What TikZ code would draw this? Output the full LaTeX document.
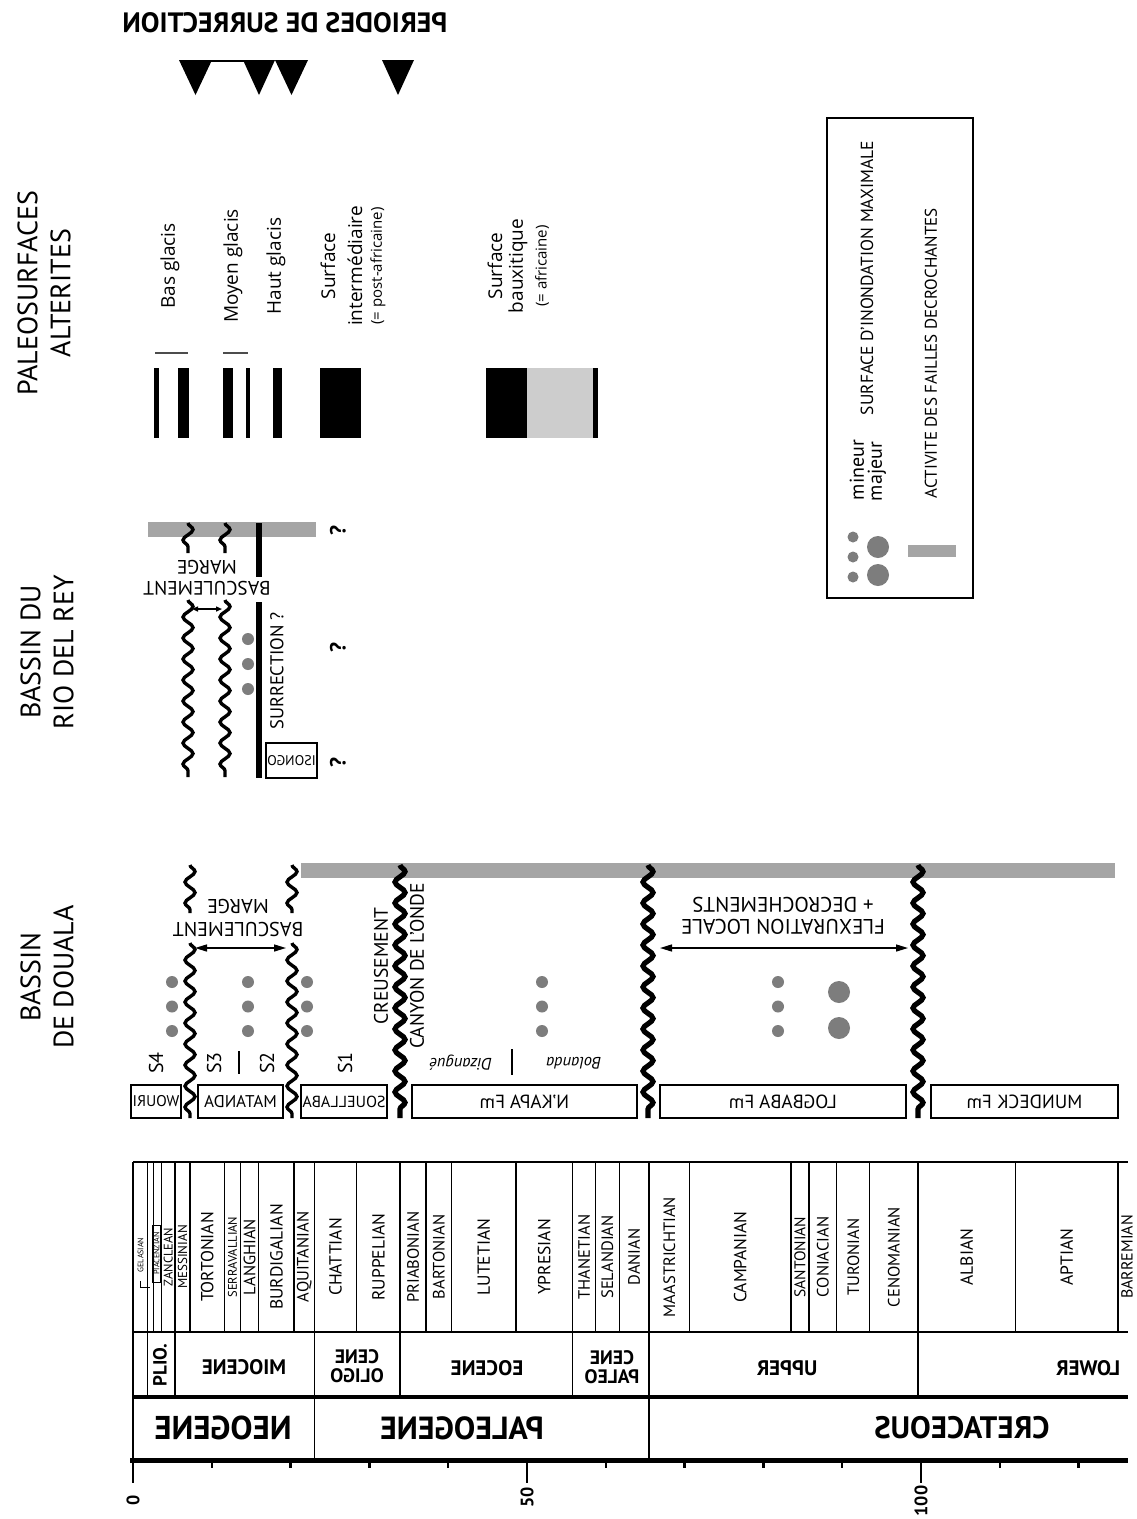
\documentclass[tikz,border=0pt]{standalone}
\usepackage{fontspec}
\setmainfont{PT Sans}
\newfontfamily\surff{Open Sans}
\usetikzlibrary{decorations.pathmorphing,arrows.meta}
\newcommand{\ax}[1]{133+7.88*#1}
\definecolor{bargray}{RGB}{165,165,165}
\definecolor{dotgray}{RGB}{125,125,125}
\definecolor{palegray}{RGB}{205,205,205}
\begin{document}
\begin{tikzpicture}[x=1pt,y=-1pt,
  every node/.style={inner sep=0pt, outer sep=0pt},
  rt/.style={rotate=90},
  mir/.style={xscale=-1},
  ud/.style={rotate=180},
  f/.style={font=\fontsize{#1}{#1}\selectfont},
  fb/.style={font=\fontsize{#1}{#1}\selectfont\bfseries},
  fi/.style={font=\fontsize{#1}{#1}\selectfont\itshape},
  fs/.style={font=\fontsize{#1}{#1}\surff},
  wavy/.style={decorate, decoration={snake, segment length=21pt, amplitude=5pt}, line width=3.4pt},
  wavyT/.style={wavy, line width=5.2pt},
  dbl/.style={{Triangle[length=12pt,width=7pt]}-{Triangle[length=12pt,width=7pt]}, line width=1.4pt},
  dbls/.style={{Triangle[length=6pt,width=5pt]}-{Triangle[length=6pt,width=5pt]}, line width=1.4pt},
  tab/.style={line width=1.3pt},
  fmbox/.style={draw, mir, line width=1.4pt, minimum height=33pt},
  sim/.style={fill=dotgray},
]
\useasboundingbox (0,0) rectangle (1136,1519);
\fill[white] (0,0) rectangle (1136,1519);

% ---------- headers ----------
\node[rt, align=center, font=\fontsize{28}{33}\selectfont] (hdouala) at (47,977) {BASSIN\\DE DOUALA};
\node[rt, align=center, font=\fontsize{28}{33}\selectfont] (hrio) at (47,652) {BASSIN DU\\RIO DEL REY};
\node[rt, align=center, font=\fontsize{28}{33}\selectfont] (hpaleo) at (44,293) {PALEOSURFACES\\ALTERITES};
\node[mir, fb=28] (hsurr) at (285,23) {PERIODES DE SURRECTION};

% ---------- triangles (periodes de surrection) ----------
\draw[line width=2pt] (196,61) -- (258,61);
\fill (179,60) -- (212,60) -- (195.5,95) -- cycle;
\fill (243,60) -- (275,60) -- (259,95) -- cycle;
\fill (275,60) -- (308,60) -- (291.5,95) -- cycle;
\fill (382,60) -- (414,60) -- (398,95) -- cycle;

% ---------- chronostratigraphic table ----------
\draw[tab] (133,1162) -- (1128,1162);
\draw[tab] (133,1332) -- (1128,1332);
\draw[line width=4pt] (133,1397) -- (1128,1397);
\draw[line width=2.5pt] (133,1162) -- (133,1460);
\foreach \a in {1.806,2.588,3.6,5.332,7.246,11.608,13.65,15.97,20.43,23.03,28.4,33.9,37.2,40.4,48.6,55.8,58.7,61.7,65.5,70.6,83.5,85.8,89.3,93.5,99.6,112,125}
  \draw[tab] ({\ax{\a}},1162) -- ({\ax{\a}},1332);
\foreach \a in {1.806,5.332,23.03,33.9,55.8,65.5,99.6}
  \draw[tab] ({\ax{\a}},1332) -- ({\ax{\a}},1397);
\foreach \a in {23.03,65.5}
  \draw[tab] ({\ax{\a}},1397) -- ({\ax{\a}},1460);
% axis
\draw[line width=5pt] (130,1460) -- (1128,1460);
\foreach \a in {10,20,30,40,60,70,80,90,110,120}
  \draw[line width=2.5pt] ({\ax{\a}},1460) -- ({\ax{\a}},1468);
\foreach \a in {0,50,100}
  \draw[line width=2.5pt] ({\ax{\a}},1460) -- ({\ax{\a}},1483);
\node[rt, fb=18] (a0) at ({\ax{0}},1500) {0};
\node[rt, fb=18] (a50) at ({\ax{50}},1497) {50};
\node[rt, fb=18] (a100) at ({\ax{100}},1501) {100};

% stage labels
\foreach \n/\a/\s in {ZANCLEAN/4.47/12.5, MESSINIAN/6.29/13, TORTONIAN/9.43/17.5,
  SERRAVALLIAN/12.63/12.5, LANGHIAN/14.8/16.5, BURDIGALIAN/18.2/17.5, AQUITANIAN/21.73/16.5,
  CHATTIAN/25.7/17.5, RUPPELIAN/31.15/17.5, PRIABONIAN/35.55/16.5, BARTONIAN/38.8/16.5,
  LUTETIAN/44.5/17.5, YPRESIAN/52.2/17.5, THANETIAN/57.25/16.5, SELANDIAN/60.2/16.5,
  DANIAN/63.6/16.5, MAASTRICHTIAN/68.05/16.5, CAMPANIAN/77.05/17.5, SANTONIAN/84.65/15.5,
  CONIACIAN/87.55/16.5, TURONIAN/91.4/16.5, CENOMANIAN/96.55/16.5, ALBIAN/105.8/17.5,
  APTIAN/118.5/17.5}
  \node[rt, f=\s] (st\n) at ({\ax{\a}},1257) {\n};
\node[rt, f=16] (stBARREMIAN) at (1127,1257) {BARREMIAN};
% Gelasian and Piacenzian
\node[rt, f=8] (stGEL) at (140.5,1255) {GELASIAN};
\draw[line width=0.9pt] (140,1281) -- (140,1287) -- (150,1287);
\draw[line width=0.9pt] (152.4,1225) rectangle (160.7,1282);
\node[rt, f=8] (stPIA) at (156.5,1253.5) {PIACENZIAN};

% series labels
\node[rt, fb=19] (plio) at (160,1365) {PLIO.};
\node[mir, fb=21] (mio) at (244,1367) {MIOCENE};
\node[mir, align=center, font=\fontsize{19.5}{18.5}\bfseries] (oli) at (357,1366) {CENE\\OLIGO};
\node[mir, fb=21] (eoc) at (487,1368) {EOCENE};
\node[mir, align=center, font=\fontsize{19.5}{18.5}\bfseries] (pal) at (612,1367) {CENE\\PALEO};
\node[mir, fb=21] (upp) at (787,1368) {UPPER};
\node[mir, fb=21] (low) at (1088,1368) {LOWER};
% system labels
\node[mir, fb=33] (neo) at (223,1428) {NEOGENE};
\node[mir, fb=32] (paleog) at (462,1428) {PALEOGENE};
\node[mir, fb=31] (cret) at (962,1428) {CRETACEOUS};

% ---------- Bassin de Douala ----------
\fill[bargray] (301,863) rectangle (1115,878);
\draw[wavy] (190,865) -- (190,913);
\draw[wavy] (190,943) -- (190,1118);
\draw[wavy] (292,865) -- (292,913);
\draw[wavy] (292,943) -- (292,1118);
\draw[wavyT] (400,865) -- (400,1118);
\draw[wavyT] (648,865) -- (648,1118);
\draw[wavyT] (918,865) -- (918,1118);

\coordinate (dba) at (195,948);
\coordinate (dbb) at (286,948);
\draw[dbl] (dba) -- (dbb);
\node[ud, align=center, font=\fontsize{20}{23}\selectfont] (dbasc) at (238,918) {BASCULEMENT\\MARGE};

\coordinate (fla) at (660,948);
\coordinate (flb) at (908,948);
\draw[dbl] (fla) -- (flb);
\node[ud, align=center, font=\fontsize{21}{22}\selectfont] (flex) at (783,916) {FLEXURATION LOCALE\\+ DECROCHEMENTS};

\node[rt, f=19.5] (creus) at (381,966) {CREUSEMENT};
\node[rt, f=19.5] (canyon) at (417,966) {CANYON DE L’ONDE};

\foreach \x in {172,248,307,542,778}{
  \fill[sim] (\x,982) circle[radius=6pt];
  \fill[sim] (\x,1006.5) circle[radius=6pt];
  \fill[sim] (\x,1031) circle[radius=6pt];
}
\fill[sim] (839,992) circle[radius=11pt];
\fill[sim] (839,1028) circle[radius=11pt];

\node[rt, f=20] (s4) at (156,1063) {S4};
\node[rt, f=20] (s3) at (214,1063) {S3};
\draw[line width=1.6pt] (239,1051) -- (239,1074);
\node[rt, f=20] (s2) at (267,1063) {S2};
\node[rt, f=20] (s1) at (345,1063) {S1};

\node[ud, fi=16.5] (diz) at (461,1063) {Dizangué};
\draw[line width=1.6pt] (512,1049) -- (512,1075);
\node[ud, fi=16.5] (bol) at (574,1063) {Bolanda};

\node[fmbox, minimum width=50pt, f=15.5] (wouri) at (156,1101.5) {WOURI};
\node[fmbox, minimum width=85pt, f=17] (matanda) at (240.5,1101.5) {MATANDA};
\node[fmbox, minimum width=86pt, f=16] (souel) at (344,1101.5) {SOUELLABA};
\node[fmbox, minimum width=225pt, f=19] (nkapa) at (524.5,1101.5) {N’KAPA Fm};
\node[fmbox, minimum width=246pt, f=19] (logb) at (783,1101.5) {LOGBABA Fm};
\node[fmbox, minimum width=187pt, f=19] (mund) at (1024.5,1101.5) {MUNDECK Fm};

% ---------- Bassin du Rio del Rey ----------
\fill[bargray] (148,522) rectangle (316,537);
\draw[wavy] (188,523) -- (188,553);
\draw[wavy] (188,600) -- (188,777);
\draw[wavy] (225,523) -- (225,553);
\draw[wavy] (225,600) -- (225,777);
\draw[line width=6pt] (259,523) -- (259,577);
\draw[line width=6pt] (259,602) -- (259,778);
\coordinate (rba) at (192,609);
\coordinate (rbb) at (222,609);
\draw[dbls] (rba) -- (rbb);
\node[ud, align=center, font=\fontsize{19.5}{21}\selectfont] (rbasc) at (207,578) {BASCULEMENT\\MARGE};
\fill[sim] (248,639) circle[radius=6pt];
\fill[sim] (248,664) circle[radius=6pt];
\fill[sim] (248,689) circle[radius=6pt];
\node[rt, f=18.5] (rsurr) at (277,671) {SURRECTION ?};
\node[draw, mir, line width=1.3pt, minimum width=51pt, minimum height=35pt, f=14] (isongo) at (291.5,760.5) {ISONGO};
\node[rt, fb=22] (q1) at (338,530) {?};
\node[rt, fb=22] (q2) at (338,647) {?};
\node[rt, fb=22] (q3) at (338,762) {?};

% ---------- Paleosurfaces ----------
\fill (154,368) rectangle (159,438);
\fill (178,368) rectangle (189,438);
\fill (223,368) rectangle (233,438);
\fill (246,368) rectangle (250,438);
\fill (273,368) rectangle (282,438);
\fill (320,368) rectangle (361,438);
\fill (486,368) rectangle (527,438);
\fill[palegray] (527,368) rectangle (593,438);
\fill (593,368) rectangle (598,438);
\draw[line width=1.5pt, black!70] (155,353) -- (188,353);
\draw[line width=1.5pt, black!70] (223,353) -- (248,353);

\node[rt, fs=19] (pbas) at (170,266) {Bas glacis};
\node[rt, fs=19] (pmoy) at (233,266) {Moyen glacis};
\node[rt, fs=19] (phaut) at (276,266) {Haut glacis};
\node[rt, fs=19] (psi1) at (328,266) {Surface};
\node[rt, fs=19] (psi2) at (355,266) {intermédiaire};
\node[rt, fs=15] (psi3) at (378,266) {(= post-africaine)};
\node[rt, fs=19] (psb1) at (495,266) {Surface};
\node[rt, fs=19] (psb2) at (518,266) {bauxitique};
\node[rt, fs=15] (psb3) at (542,266) {(= africaine)};

% ---------- Legend ----------
\draw[line width=1.2pt] (827,118) rectangle (973,598);
\fill[sim] (853,537) circle[radius=5.5pt];
\fill[sim] (853,557) circle[radius=5.5pt];
\fill[sim] (853,577) circle[radius=5.5pt];
\fill[sim] (878,547) circle[radius=11pt];
\fill[sim] (878,575) circle[radius=11pt];
\fill[bargray] (908,545) rectangle (956,557);
\node[rt, anchor=west, f=20] (lmin) at (857,500) {mineur};
\node[rt, anchor=west, f=20] (lmaj) at (877,501) {majeur};
\node[rt, anchor=west, f=17.5] (lsim) at (867,415) {SURFACE D’INONDATION MAXIMALE};
\node[rt, anchor=west, f=17] (lact) at (931,498) {ACTIVITE DES FAILLES DECROCHANTES};
\end{tikzpicture}
\end{document}
